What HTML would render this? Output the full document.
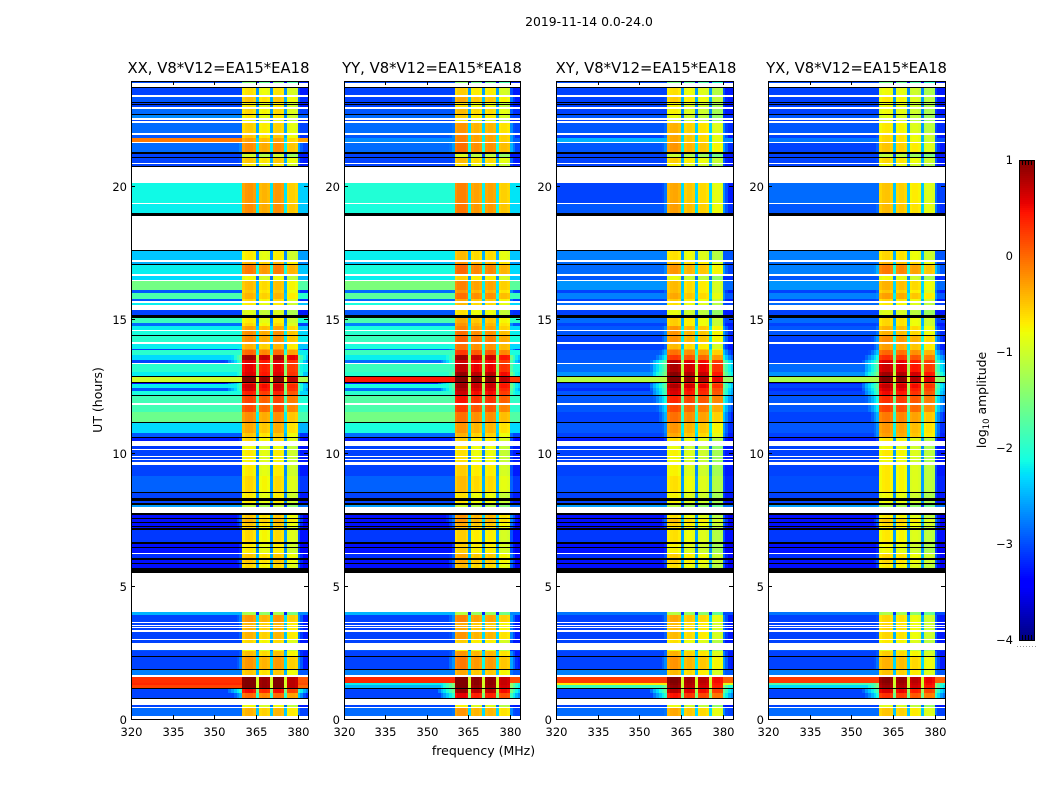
<!DOCTYPE html>
<html lang="en">
<head>
<meta charset="utf-8">
<title>2019-11-14 0.0-24.0</title>
<style>
html,body{margin:0;padding:0;background:#fff;}
svg{display:block;font-family:"DejaVu Sans","Liberation Sans",sans-serif;fill:#000;}
</style>
</head>
<body>
<svg id="figure" xmlns="http://www.w3.org/2000/svg" width="1050" height="800" viewBox="0 0 1050 800">
  <rect x="0" y="0" width="1050" height="800" fill="#fff"/>
  <text x="589" y="26" font-size="12.4" text-anchor="middle">2019-11-14 0.0-24.0</text>
  <text x="483.5" y="755" font-size="12.5" text-anchor="middle">frequency (MHz)</text>
  <text transform="translate(102,400) rotate(-90)" font-size="12.5" text-anchor="middle">UT (hours)</text>
  <text transform="translate(986,400) rotate(-90)" font-size="12.4" text-anchor="middle">log<tspan font-size="8.5" dy="3">10</tspan><tspan dy="-3"> amplitude</tspan></text>
  <g id="panels"></g>
  <g id="colorbar"></g>
</svg>
<script>
// Time row edges (UT hours, top of plot to bottom)
const utEdges = [23.94,23.88,23.70,23.66,23.40,23.35,23.16,23.13,23.08,23.04,22.95,22.90,22.70,22.65,22.54,22.49,22.44,22.35,21.98,21.91,21.80,21.66,21.62,21.29,21.20,21.08,21.04,20.87,20.83,20.75,20.70,20.12,19.36,19.32,19.00,18.89,17.60,17.56,17.22,17.16,17.07,17.04,16.69,16.62,16.47,16.42,16.10,16.00,15.75,15.68,15.62,15.53,15.35,15.15,15.06,14.87,14.75,14.60,14.56,14.41,14.37,14.16,14.07,13.88,13.85,13.66,13.47,13.37,13.32,13.02,12.87,12.83,12.66,12.62,12.57,12.42,12.31,12.16,12.12,11.85,11.78,11.53,11.16,11.11,10.72,10.58,10.53,10.42,10.24,10.12,10.09,9.87,9.83,9.74,9.71,9.64,9.53,9.12,8.53,8.49,8.28,8.18,8.09,8.04,7.94,7.72,7.65,7.54,7.50,7.39,7.35,7.26,7.22,7.17,7.10,6.65,6.56,6.45,6.42,6.24,6.19,6.04,5.97,5.85,5.82,5.65,5.49,4.03,3.90,3.63,3.59,3.53,3.49,3.44,3.40,3.34,3.26,3.00,2.96,2.86,2.59,2.54,2.36,2.33,1.88,1.84,1.65,1.56,1.35,1.28,1.15,1.11,0.96,0.79,0.75,0.53,0.46,0.41,0.12,0];
// Row kind: d = data, w = flagged (white), k = below-range (black)
const rowKinds = [
 "dwkdwdkdkd","wdkdwdwdwd","dwdkdkdwdk","wdwdkwkdwd","kdwdwddddw","dwdkdddwdk","dwdddddwdd","kdkddddkdw",
 "ddkddkdwdw","dwdwdwddkd","kdkdwkdkdk","dkdkdkdkdw","dkdkdkwddw","dwdwdwdwdw","ddkdkdwddd","kddkwdwdw"
].join("");
const frequencyTicks = [320,335,350,365,380];
const utTicks = [0,5,10,15,20];
const colorbarTicks = [1,0,-1,-2,-3,-4];
const colorbarMinorTicks = [1,2,3,4];
const channelCount = 64;
const panelTitles = ["XX, V8*V12=EA15*EA18","YY, V8*V12=EA15*EA18","XY, V8*V12=EA15*EA18","YX, V8*V12=EA15*EA18"];

// Per-row log10 amplitude: off-band background and in-band level
const xxBackground = [
 -3,-3.05,-2.95,-3.05,-3.05,-2.85,-2.7,-3.05,-2.85,-2.95,
 -0.1,-2.85,-3.05,-3.05,-3.05,-2.15,-2.2,-2.4,-2.5,-2.2,
 -2.3,-1.55,-2.95,-1.8,-2.95,-2.2,-3.05,-1.9,-2.85,-2.2,
 -2.1,-2,-2.2,-3.05,-2,-2.3,-3.05,-2,-2.2,-1,
 -3.3,-2.2,-2.95,-2.1,-1.85,-1.85,-1.6,-2.3,-2.95,-3.25,
 -3.1,-3.05,-3.05,-3.05,-3.05,-2.9,-3.05,-3.05,-2.6,-3.3,
 -3.3,-3.3,-3.3,-3.1,-3.3,-3.3,-3.15,-3.3,-3.3,-2.5,
 -3.05,-3.05,-3.05,-3.05,-3.05,-3.05,-2.95,-3.05,-3.05,-2.75,
 0.3,0.35,0.2,-3.05,-3.05,-3.05,-2.85];
const xxBand = [
 -1.6,-0.75,-0.6,-0.8,-0.8,-0.7,-0.8,-0.9,-0.65,-0.6,
 -0.4,-0.3,-1.1,-0.6,-0.8,-0.35,-0.3,-0.8,-0.5,-0.2,
 -0.9,-0.55,-0.6,-0.5,-0.7,-0.8,-1,-0.8,-0.7,-0.4,
 -0.3,-0.3,-0.5,-0.3,-0.1,0.75,0.5,0.45,0.5,0.95,
 0.3,0.55,0.5,0.3,0.1,0.05,-0.3,-0.45,-0.6,-0.7,
 -0.9,-0.8,-0.85,-0.85,-0.8,-0.7,-0.8,-0.8,-1.2,-0.6,
 -0.5,-0.6,-0.7,-0.7,-0.8,-0.8,-0.6,-0.6,-0.7,-1.3,
 -0.35,-0.5,-0.5,-0.5,-0.5,-0.7,-0.9,-0.55,-0.35,-0.6,
 0.95,0.95,0.95,0.4,-0.1,-0.9,-0.5];
const yyBackground = [
 -3,-3.05,-3.05,-3.05,-3.05,-2.95,-2.85,-3.05,-2.85,-2.95,
 -2.7,-2.85,-3.05,-3.05,-3.05,-2.05,-2.1,-2.2,-2.4,-2.1,
 -2.2,-1.5,-2.85,-1.7,-2.85,-2.1,-2.95,-1.8,-2.75,-2.1,
 -2,-1.9,-2.1,-2.95,-1.9,-2.2,-2.85,-1.9,-2,0.45,
 -3.2,-2.1,-2.85,-2,-1.75,-1.8,-1.55,-2.1,-2.85,-3.25,
 -3.05,-3.05,-3.05,-3.05,-3.05,-2.9,-3.05,-3.05,-2.6,-3.3,
 -3.3,-3.3,-3.3,-3.1,-3.3,-3.3,-3.15,-3.3,-3.3,-2.5,
 -3.05,-3.05,-3.05,-3.05,-3.05,-3.05,-2.95,-3.05,-3.05,-2.75,
 0.35,-2.2,-2.5,-3.05,-3.05,-3.05,-2.85];
const yyBand = [
 -1.6,-0.7,-0.5,-0.8,-0.8,-0.6,-0.7,-0.9,-0.4,-0.3,
 -0.3,-0.2,-1.1,-0.6,-0.8,-0.3,-0.25,-0.6,-0.4,-0.15,
 -0.7,-0.3,-0.4,-0.2,-0.5,-0.6,-0.8,-0.5,-0.4,-0.3,
 -0.2,-0.1,-0.2,-0.2,0.1,0.7,0.5,0.55,0.75,1,
 0.6,0.7,0.6,0.5,0.3,0.1,-0.2,-0.4,-0.55,-0.7,
 -0.8,-0.8,-0.8,-0.8,-0.7,-0.6,-0.8,-0.8,-1.2,-0.4,
 -0.4,-0.5,-0.6,-0.7,-0.7,-0.7,-0.5,-0.5,-0.6,-1.3,
 -0.3,-0.5,-0.5,-0.5,-0.4,-0.7,-0.9,-0.4,-0.25,-0.5,
 0.95,0.95,0.9,0.75,0.4,-0.9,-0.4];
const xyBackground = [
 -3,-3.05,-3.05,-3.05,-3.05,-3.05,-2.95,-3.05,-2.95,-3.05,
 -2.5,-2.95,-3.05,-3.05,-3.05,-3.05,-2.95,-2.75,-2.85,-2.85,
 -2.95,-2.65,-3.05,-2.75,-3.05,-2.85,-3.05,-2.85,-3.05,-2.95,
 -2.95,-3.05,-3.05,-3.05,-2.95,-2.95,-2.95,-2.85,-2.65,-1.15,
 -3.2,-3.05,-3.15,-2.95,-2.95,-2.95,-3.05,-2.95,-3.05,-3.25,
 -3.05,-3.05,-3.05,-3.05,-3.05,-3,-3.05,-3.05,-2.6,-3.3,
 -3.3,-3.3,-3.3,-3.1,-3.3,-3.3,-3.15,-3.3,-3.3,-2.8,
 -3.05,-3.05,-3.05,-3.05,-3.05,-3.05,-2.95,-3.05,-3.05,-2.75,
 0.25,-0.7,-1.9,-3.05,-3.05,-3.05,-2.85];
const xyBand = [
 -1.6,-0.7,-0.6,-0.8,-0.8,-0.8,-0.9,-0.9,-0.45,-0.4,
 -0.4,-0.3,-1.1,-0.6,-0.8,-0.4,-0.35,-0.7,-0.5,-0.3,
 -0.9,-0.5,-0.5,-0.4,-0.6,-0.7,-0.9,-0.6,-0.6,-0.3,
 -0.3,-0.3,-0.5,-0.3,-0.1,0.2,0.7,0.75,0.9,1,
 0.5,0.75,0.6,0.55,0.3,0.1,-0.1,-0.3,-0.4,-0.7,
 -0.9,-0.8,-0.85,-0.85,-0.8,-0.7,-0.8,-0.8,-1.2,-0.7,
 -0.5,-0.6,-0.7,-0.7,-0.8,-0.8,-0.6,-0.6,-0.7,-1.2,
 -0.4,-0.5,-0.5,-0.5,-0.5,-0.7,-0.9,-0.45,-0.3,-0.5,
 0.95,0.9,0.85,0.7,0.4,-0.9,-0.4];
const yxBackground = [
 -3,-3.05,-3.05,-3.05,-3.05,-3.05,-2.95,-3.05,-2.95,-3.05,
 -2.8,-3.05,-3.05,-3.05,-3.05,-2.85,-2.95,-2.75,-2.85,-2.75,
 -2.95,-2.65,-3.05,-2.75,-3.05,-2.85,-3.05,-2.85,-3.05,-2.95,
 -2.95,-3.05,-3.05,-3.05,-3.05,-3.05,-3.05,-2.85,-2.65,-1.2,
 -3.3,-3.05,-3.15,-3.05,-2.95,-2.95,-3.05,-2.95,-3.05,-3.25,
 -3.05,-3.05,-3.05,-3.05,-3.05,-3,-3.05,-3.05,-2.6,-3.3,
 -3.3,-3.3,-3.3,-3.1,-3.3,-3.3,-3.15,-3.3,-3.3,-2.8,
 -3.05,-3.05,-3.05,-3.05,-3.05,-3.05,-2.95,-3.05,-3.05,-2.75,
 0.25,-1.8,-2.3,-3.05,-3.05,-3.05,-2.85];
const yxBand = [
 -1.6,-0.8,-0.7,-0.8,-0.8,-0.8,-0.9,-0.9,-0.7,-0.6,
 -0.6,-0.5,-1.1,-0.6,-0.8,-0.5,-0.45,-0.6,-0.4,-0.1,
 -0.8,-0.4,-0.5,-0.3,-0.6,-0.7,-0.9,-0.6,-0.6,-0.4,
 -0.4,-0.2,-0.3,-0.3,0,0.3,0.6,0.65,0.85,1,
 0.5,0.7,0.6,0.5,0.3,0.2,-0.1,-0.25,-0.3,-0.7,
 -0.8,-0.7,-0.75,-0.8,-0.7,-0.7,-0.8,-0.8,-1.2,-0.7,
 -0.5,-0.6,-0.7,-0.7,-0.8,-0.8,-0.6,-0.6,-0.7,-1.2,
 -0.6,-0.6,-0.6,-0.6,-0.6,-0.7,-0.9,-0.55,-0.4,-0.5,
 0.95,0.9,0.85,0.6,0.3,-0.9,-0.5];

// Offset of each of the four in-band humps, per polarisation
const xxHumps = [0.1,-0.05,0.1,-0.2];
const yyHumps = [0.15,0,0,-0.25];
const xyHumps = [0.05,-0.1,-0.2,-0.45];
const yxHumps = [0,-0.05,-0.2,-0.4];
// Spectral shape: offset from band level for channels 40-59
const bandShape = [-0.08,0,0.02,0.02,-0.05,-1.9,-0.05,0,0,-0.05,-1.9,-0.05,0,0,-0.05,-1.9,-0.05,0,0,-0.05];
const lowerFlankDrop = [4.2,3.8,3.5,3.2,3.0,2.8,2.6,2.4];
const upperFlankDrop = [2.3,2.6,2.9,3.1];
// Jet colormap control points (position, value)
const jetRedPos = [0,0.35,0.66,0.89,1];
const jetRedVal = [0,0,1,1,0.5];
const jetGreenPos = [0,0.125,0.375,0.64,0.91,1];
const jetGreenVal = [0,0,1,1,0,0];
const jetBluePos = [0,0.11,0.34,0.65,1];
const jetBlueVal = [0.5,1,1,0,0];

const NS = "http://www.w3.org/2000/svg";
const panelBox = [[131,308],[344,520],[556,733],[768,945]];
const titleCenter = [218.5,432,646,856.5];
const plotTop = 81, plotBottom = 719, freqMin = 320, freqMax = 383.7, utMax = 23.94;
const bgSeries = [xxBackground,yyBackground,xyBackground,yxBackground];
const bandSeries = [xxBand,yyBand,xyBand,yxBand];
const humpSeries = [xxHumps,yyHumps,xyHumps,yxHumps];
const panelKeys = ["xx","yy","xy","yx"];

function yScale(ut){ return plotBottom - (ut/utMax)*(plotBottom-plotTop); }
function xScale(p,f){ const b=panelBox[p]; return b[0] + (f-freqMin)/(freqMax-freqMin)*(b[1]-b[0]); }
function lerp(pos,val,t){
  for(let i=1;i<pos.length;i++){
    if(t<=pos[i]) return val[i-1]+(val[i]-val[i-1])*(t-pos[i-1])/(pos[i]-pos[i-1]);
  }
  return val[val.length-1];
}
function jet(v){
  const t = Math.min(1,Math.max(0,(v+4)/5));
  return "rgb("+Math.round(255*lerp(jetRedPos,jetRedVal,t))+","+Math.round(255*lerp(jetGreenPos,jetGreenVal,t))+","+Math.round(255*lerp(jetBluePos,jetBlueVal,t))+")";
}
function channelValue(p,c,bg,band){
  if (c>=40 && c<60){
    const s = bandShape[c-40];
    if (s < -1) return band + s;
    const hump = humpSeries[p][Math.floor((c-40)/5)];
    return band + hump + s;
  }
  if (c>=60){
    return Math.max(bg-0.2, band-upperFlankDrop[c-60]);
  }
  if (c>=32){
    return Math.max(bg, band-lowerFlankDrop[c-32]);
  }
  return bg;
}
function node(parent,tag,attrs){
  const el=document.createElementNS(NS,tag);
  for(const k in attrs) el.setAttribute(k,attrs[k]);
  parent.appendChild(el);
  return el;
}

const panelsRoot=document.getElementById("panels");
panelBox.forEach(function(box,p){
  const g=node(panelsRoot,"g",{});
  
  
  const cells=node(g,"g",{"shape-rendering":"crispEdges"});
  
  
  let d=0;
  for(let r=0;r<rowKinds.length;r++){
    const kind=rowKinds[r];
    const y1=Math.round(yScale(utEdges[r])), y2=Math.round(yScale(utEdges[r+1]));
    const h=Math.max(1,y2-y1);
    if(kind==="w") continue;
    if(kind==="k"){
      const bar=node(cells,"rect",{x:box[0],y:y1,width:box[1]-box[0],height:h,fill:"#000"});
      
      
      continue;
    }
    const bg=bgSeries[p][d], band=bandSeries[p][d];
    d++;
    for(let c=0;c<channelCount;c++){
      const x1=Math.round(xScale(p,freqMin+c));
      const x2=Math.min(box[1],Math.round(xScale(p,freqMin+c+1)));
      const cell=node(cells,"rect",{x:x1,y:y1,width:Math.max(1,x2-x1),height:h,fill:jet(channelValue(p,c,bg,band))});
      
      
    }
  }
  const frame=node(g,"rect",{x:box[0]+0.5,y:plotTop+0.5,width:box[1]-box[0],height:plotBottom-plotTop,fill:"none",stroke:"#000","stroke-width":1});
  
  
  const title=node(g,"text",{x:titleCenter[p],y:73,"font-size":14.8,"text-anchor":"middle"});
  title.textContent=panelTitles[p];
  
  
  frequencyTicks.forEach(function(f){
    const x=Math.round(xScale(p,f))+0.5;
    const t1=node(g,"path",{d:"M"+x+" "+plotBottom+"v-4M"+x+" "+plotTop+"v4",stroke:"#000","stroke-width":1,fill:"none"});
    
    
    const l=node(g,"text",{x:x,y:736,"font-size":11.5,"text-anchor":"middle"});
    l.textContent=String(f);
    
    
  });
  utTicks.forEach(function(u){
    const y=Math.round(yScale(u))+0.5;
    const t2=node(g,"path",{d:"M"+box[0]+" "+y+"h4M"+box[1]+" "+y+"h-4",stroke:"#000","stroke-width":1,fill:"none"});
    
    
    const l2=node(g,"text",{x:box[0]-4,y:y+4.5,"font-size":11.5,"text-anchor":"end"});
    l2.textContent=String(u);
    
    
  });
});

// Colorbar
const cbX=1019, cbW=15, cbTop=160, cbBottom=640, cbMin=-4, cbMax=1;
function cbY(v){ return cbBottom-(v-cbMin)/(cbMax-cbMin)*(cbBottom-cbTop); }
const cbRoot=document.getElementById("colorbar");
const ramp=node(cbRoot,"g",{"shape-rendering":"crispEdges"});


for(let py=cbTop;py<cbBottom;py+=2){
  const v=cbMax-(py+1-cbTop)/(cbBottom-cbTop)*(cbMax-cbMin);
  const s=node(ramp,"rect",{x:cbX,y:py,width:cbW,height:2,fill:jet(v)});
  
  
}
const cbFrame=node(cbRoot,"rect",{x:cbX+0.5,y:cbTop+0.5,width:cbW,height:cbBottom-cbTop,fill:"none",stroke:"#000","stroke-width":1});


colorbarMinorTicks.forEach(function(n){
  const x=cbX+n*3+0.5;
  const m=node(cbRoot,"path",{d:"M"+x+" "+cbTop+"v5M"+x+" "+cbBottom+"v-5",stroke:"#000","stroke-width":1,fill:"none"});
  
  
});
colorbarTicks.forEach(function(v){
  const y=Math.round(cbY(v));
  const l=node(cbRoot,"text",{x:1013,y:y+4,"font-size":11.5,"text-anchor":"end"});
  l.textContent=v<0?"\u2212"+Math.abs(v):String(v);
  
  
});
[0,1,2,3,4,5,6].forEach(function(n){
  const dot=node(cbRoot,"rect",{x:1017+n*3,y:646,width:1,height:1,fill:"#999"});
  
  
});
</script>
</body>
</html>
